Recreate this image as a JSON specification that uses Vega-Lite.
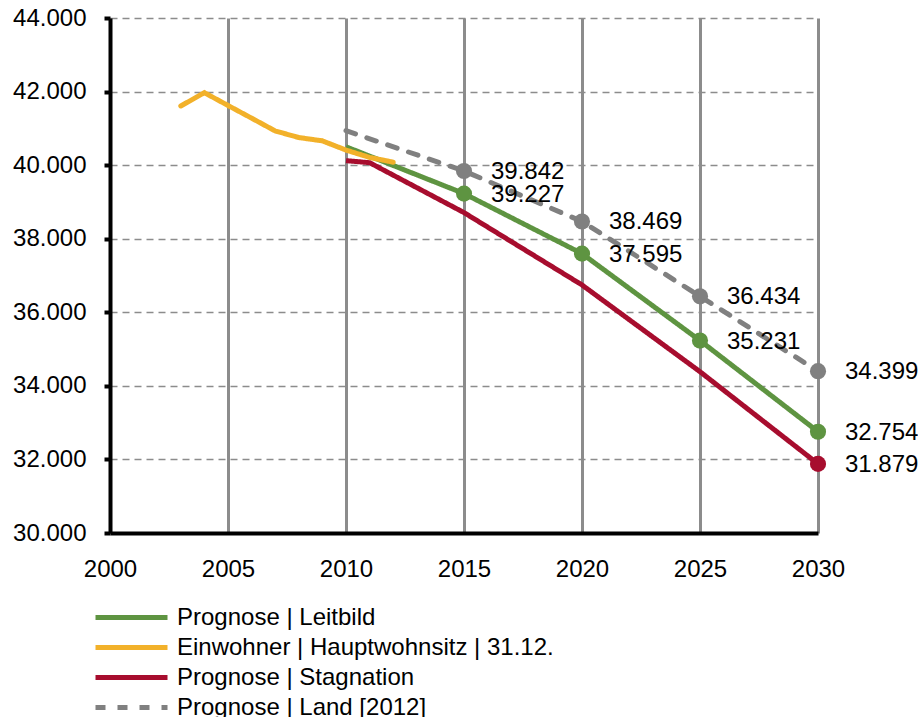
{
  "$schema": "https://vega.github.io/schema/vega-lite/v6.json",
  "autosize": {"type": "none"},
  "width": 708,
  "height": 515,
  "padding": {"left": 110, "top": 18, "right": 100, "bottom": 184},
  "config": {
    "locale": {"number": {"decimal": ",", "thousands": ".", "grouping": [3], "currency": ["", " €"]}},
    "view": {"stroke": null},
    "font": "Liberation Sans"
  },
  "data": {
    "values": [
      {"year": 2003, "s": "Einwohner | Hauptwohnsitz | 31.12.", "v": 41608},
      {"year": 2004, "s": "Einwohner | Hauptwohnsitz | 31.12.", "v": 41970},
      {"year": 2005, "s": "Einwohner | Hauptwohnsitz | 31.12.", "v": 41622},
      {"year": 2006, "s": "Einwohner | Hauptwohnsitz | 31.12.", "v": 41277},
      {"year": 2007, "s": "Einwohner | Hauptwohnsitz | 31.12.", "v": 40930},
      {"year": 2008, "s": "Einwohner | Hauptwohnsitz | 31.12.", "v": 40750},
      {"year": 2009, "s": "Einwohner | Hauptwohnsitz | 31.12.", "v": 40660},
      {"year": 2010, "s": "Einwohner | Hauptwohnsitz | 31.12.", "v": 40410},
      {"year": 2011, "s": "Einwohner | Hauptwohnsitz | 31.12.", "v": 40210},
      {"year": 2012, "s": "Einwohner | Hauptwohnsitz | 31.12.", "v": 40080},
      {"year": 2010, "s": "Prognose | Leitbild", "v": 40500},
      {"year": 2015, "s": "Prognose | Leitbild", "v": 39227},
      {"year": 2020, "s": "Prognose | Leitbild", "v": 37595},
      {"year": 2025, "s": "Prognose | Leitbild", "v": 35231},
      {"year": 2030, "s": "Prognose | Leitbild", "v": 32754},
      {"year": 2010, "s": "Prognose | Stagnation", "v": 40121},
      {"year": 2011, "s": "Prognose | Stagnation", "v": 40067},
      {"year": 2015, "s": "Prognose | Stagnation", "v": 38710},
      {"year": 2020, "s": "Prognose | Stagnation", "v": 36743},
      {"year": 2025, "s": "Prognose | Stagnation", "v": 34385},
      {"year": 2030, "s": "Prognose | Stagnation", "v": 31879},
      {"year": 2010, "s": "Prognose | Land [2012]", "v": 40937},
      {"year": 2015, "s": "Prognose | Land [2012]", "v": 39842},
      {"year": 2020, "s": "Prognose | Land [2012]", "v": 38469},
      {"year": 2025, "s": "Prognose | Land [2012]", "v": 36434},
      {"year": 2030, "s": "Prognose | Land [2012]", "v": 34399}
    ]
  },
  "encoding": {
    "x": {
      "field": "year", "type": "quantitative",
      "scale": {"domain": [2000, 2030], "nice": false, "zero": false},
      "axis": {
        "title": null, "values": [2000, 2005, 2010, 2015, 2020, 2025, 2030], "format": "d",
        "labelFontSize": 24, "labelColor": "#000000", "labelPadding": 24, "labelFlush": false,
        "ticks": false, "tickSize": 0,
        "domainColor": "#000000", "domainWidth": 4,
        "grid": true, "gridColor": "#8c8c8c", "gridWidth": 3, "gridOpacity": 1
      }
    },
    "y": {
      "field": "v", "type": "quantitative",
      "scale": {"domain": [30000, 44000], "nice": false, "zero": false},
      "axis": {
        "title": null, "values": [30000, 32000, 34000, 36000, 38000, 40000, 42000, 44000], "format": ",.0f",
        "labelFontSize": 24, "labelColor": "#000000", "labelPadding": 18,
        "ticks": true, "tickSize": 6, "tickWidth": 4, "tickColor": "#000000",
        "domainColor": "#000000", "domainWidth": 4,
        "grid": true, "gridColor": "#8c8c8c", "gridWidth": 1.5, "gridDash": [7, 5], "gridOpacity": 1
      }
    },
    "color": {
      "field": "s", "type": "nominal",
      "scale": {
        "domain": ["Prognose | Leitbild", "Einwohner | Hauptwohnsitz | 31.12.", "Prognose | Stagnation", "Prognose | Land [2012]"],
        "range": ["#5e9441", "#f2b12a", "#a70d2e", "#808080"]
      },
      "legend": {
        "title": null, "orient": "none", "legendX": 9, "legendY": 587, "padding": 0,
        "symbolType": "M-3.6,0H3.6", "symbolSize": 400, "symbolStrokeWidth": 5,
        "labelFontSize": 24, "labelColor": "#000000", "labelOffset": 33, "rowPadding": 5, "labelLimit": 600
      }
    }
  },
  "layer": [
    {
      "transform": [{"filter": "datum.s == 'Prognose | Land [2012]'"}],
      "mark": {"type": "line", "strokeWidth": 5, "strokeCap": "round"},
      "encoding": {
        "strokeDash": {
          "field": "s", "type": "nominal",
          "scale": {
            "domain": ["Prognose | Leitbild", "Einwohner | Hauptwohnsitz | 31.12.", "Prognose | Stagnation", "Prognose | Land [2012]"],
            "range": [[1, 0], [1, 0], [1, 0], [10, 12]]
          },
          "legend": {
            "title": null, "orient": "none", "legendX": 9, "legendY": 587, "padding": 0,
            "symbolType": "M-3.6,0H3.6", "symbolSize": 400, "symbolStrokeWidth": 5,
            "labelFontSize": 24, "labelColor": "#000000", "labelOffset": 33, "rowPadding": 5, "labelLimit": 600
          }
        }
      }
    },
    {
      "transform": [{"filter": "datum.s == 'Prognose | Leitbild' || datum.s == 'Prognose | Stagnation'"}],
      "mark": {"type": "line", "strokeWidth": 5},
      "encoding": {
        "strokeDash": {"field": "s", "type": "nominal"}
      }
    },
    {
      "transform": [{"filter": "datum.s == 'Einwohner | Hauptwohnsitz | 31.12.'"}],
      "mark": {"type": "line", "strokeWidth": 5, "strokeCap": "round"},
      "encoding": {
        "strokeDash": {"field": "s", "type": "nominal"}
      }
    },
    {
      "transform": [{"filter": "datum.year >= 2015 && datum.s != 'Einwohner | Hauptwohnsitz | 31.12.' && (datum.s != 'Prognose | Stagnation' || datum.year == 2030)"}],
      "mark": {"type": "point", "filled": true, "size": 260, "opacity": 1},
      "encoding": {}
    },
    {
      "transform": [{"filter": "datum.year >= 2015 && datum.s != 'Einwohner | Hauptwohnsitz | 31.12.' && (datum.s != 'Prognose | Stagnation' || datum.year == 2030)"}],
      "mark": {"type": "text", "align": "left", "baseline": "middle", "dx": 27, "dy": 1, "fontSize": 24, "color": "#000000"},
      "encoding": {
        "text": {"field": "v", "type": "quantitative", "format": ",.0f"},
        "color": {"value": "#000000"}
      }
    }
  ]
}
